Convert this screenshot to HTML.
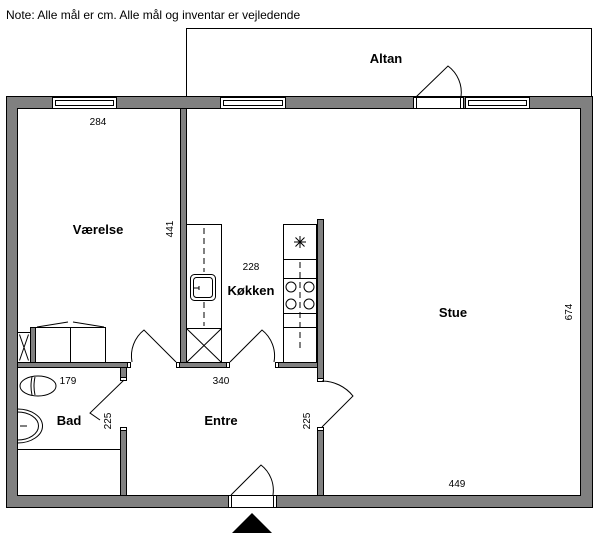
<!DOCTYPE html>
<html><head><meta charset="utf-8"><style>
html,body{margin:0;padding:0;background:#fff;}
svg{display:block;}
text{font-family:"Liberation Sans",Arial,sans-serif;fill:#000;}
.b{font-weight:bold;font-size:13px;}
.s{font-size:10px;}
</style></head><body>
<svg width="600" height="537" viewBox="0 0 600 537" xmlns="http://www.w3.org/2000/svg">
<text x="6" y="19" font-size="12">Note: Alle mål er cm. Alle mål og inventar er vejledende</text>
<!-- balcony -->
<path d="M186.5 97 V28.5 H591.5 V97" fill="none" stroke="#000" stroke-width="1"/>
<!-- outer walls -->
<g fill="#808080" stroke="#000" stroke-width="1">
<path d="M6.5 96.5 H592.5 V507.5 H6.5 Z M17.5 108.5 V495.5 H580.5 V108.5 Z" fill-rule="evenodd"/>
<!-- interior walls -->
<rect x="180.5" y="108.5" width="6" height="254"/>
<rect x="17.5" y="362.5" width="113" height="5"/>
<rect x="176.5" y="362.5" width="53" height="5"/>
<rect x="275.5" y="362.5" width="43" height="5"/>
<rect x="317.5" y="219.5" width="6" height="162"/>
<rect x="317.5" y="427.5" width="6" height="68"/>
<rect x="120.5" y="367.5" width="6" height="13"/>
<rect x="120.5" y="427.5" width="6" height="68"/>
<rect x="30.5" y="327.5" width="5" height="35"/>
</g>
<!-- windows -->
<g fill="#fff" stroke="#000" stroke-width="1">
<rect x="52.5" y="97.5" width="64" height="11"/><rect x="55.5" y="100.5" width="58" height="5"/>
<rect x="220.5" y="97.5" width="65" height="11"/><rect x="223.5" y="100.5" width="59" height="5"/>
<rect x="465.5" y="97.5" width="64" height="11"/><rect x="468.5" y="100.5" width="58" height="5"/>
<rect x="413.5" y="97.5" width="50" height="11"/>
<rect x="228.5" y="495.5" width="48" height="12"/>
<!-- jambs -->
<rect x="413.5" y="97.5" width="3" height="11"/><rect x="460.5" y="97.5" width="3" height="11"/>
<rect x="228.5" y="495.5" width="3" height="12"/><rect x="273.5" y="495.5" width="3" height="12"/>
<rect x="127.5" y="362.5" width="3" height="5"/><rect x="176.5" y="362.5" width="3" height="5"/>
<rect x="226.5" y="362.5" width="3" height="5"/><rect x="275.5" y="362.5" width="3" height="5"/>
<rect x="120.5" y="377.5" width="6" height="3"/><rect x="120.5" y="427.5" width="6" height="3"/>
<rect x="317.5" y="378.5" width="6" height="3"/><rect x="317.5" y="427.5" width="6" height="3"/>
</g>
<!-- doors -->
<g fill="none" stroke="#000" stroke-width="1">
<path d="M416 97 L448 66 A33 33 0 0 1 461 97"/>
<path d="M231 495 L261 465 A32 32 0 0 1 273 495"/>
<path d="M176 362 L144 330 A33 33 0 0 0 132 362"/>
<path d="M230 362 L262 330 A33 33 0 0 1 274 362"/>
<path d="M322 427 L353 396 A40 40 0 0 0 322 381"/>
<path d="M124 380 L90 413 L100 420"/>
<!-- kitchen left -->
<rect x="186.5" y="224.5" width="35" height="138"/>
<line x1="186.5" y1="328.5" x2="221.5" y2="328.5"/>
<path d="M186.5 328.5 L221.5 362.5 M221.5 328.5 L186.5 362.5"/>
<path d="M204 228 V272 M204 302 V326" stroke-dasharray="6,4"/>
<rect x="190.5" y="274.5" width="25" height="26" rx="4"/>
<rect x="193.5" y="277.5" width="19" height="20" rx="3"/>
<path d="M193 288 H199 M199 286 v4"/>
<!-- kitchen right -->
<rect x="283.5" y="224.5" width="33" height="138"/>
<path d="M283.5 259.5 H316.5 M283.5 278.5 H316.5 M283.5 313.5 H316.5 M283.5 327.5 H316.5"/>
<path d="M300 236 V248 M294 242 H306 M295.5 237.5 L304.5 246.5 M304.5 237.5 L295.5 246.5"/>
<path d="M300 262 V352" stroke-dasharray="6,4"/>
<circle cx="291" cy="287" r="5" fill="#fff"/><circle cx="309" cy="287" r="5" fill="#fff"/>
<circle cx="291" cy="304" r="5" fill="#fff"/><circle cx="309" cy="304" r="5" fill="#fff"/>
<!-- wardrobe -->
<rect x="35.5" y="327.5" width="70" height="35"/>
<line x1="70.5" y1="327.5" x2="70.5" y2="362.5"/>
<path d="M37 327 L68 322 M73 322 L104 327"/>
<rect x="17.5" y="332.5" width="13" height="30"/>
<path d="M19.5 334.5 L28.5 360.5 M28.5 334.5 L19.5 360.5"/>
<!-- bathroom -->
<ellipse cx="38" cy="386" rx="18" ry="10"/>
<path d="M32 377 Q30 386 32 395 M35 377 Q33 386 35 395"/>
<path d="M17.5 409 A25 17 0 0 1 17.5 443"/>
<path d="M17.5 412 A21 14 0 0 1 17.5 440"/>
<path d="M20 426 H27"/>
<line x1="17.5" y1="449.5" x2="120.5" y2="449.5"/>
</g>
<!-- entrance arrow -->
<polygon points="232,533 272,533 252,513" fill="#000"/>
<!-- labels -->
<text class="b" x="386" y="63" text-anchor="middle">Altan</text>
<text class="b" x="98" y="234" text-anchor="middle">Værelse</text>
<text class="b" x="251" y="295" text-anchor="middle">Køkken</text>
<text class="b" x="453" y="317" text-anchor="middle">Stue</text>
<text class="b" x="69" y="425" text-anchor="middle">Bad</text>
<text class="b" x="221" y="425" text-anchor="middle">Entre</text>
<text class="s" x="98" y="125" text-anchor="middle">284</text>
<text class="s" x="251" y="270" text-anchor="middle">228</text>
<text class="s" x="68" y="384" text-anchor="middle">179</text>
<text class="s" x="221" y="384" text-anchor="middle">340</text>
<text class="s" x="457" y="487" text-anchor="middle">449</text>
<text class="s" transform="translate(173,229) rotate(-90)" text-anchor="middle">441</text>
<text class="s" transform="translate(572,312) rotate(-90)" text-anchor="middle">674</text>
<text class="s" transform="translate(111,421) rotate(-90)" text-anchor="middle">225</text>
<text class="s" transform="translate(310,421) rotate(-90)" text-anchor="middle">225</text>
</svg>
</body></html>
